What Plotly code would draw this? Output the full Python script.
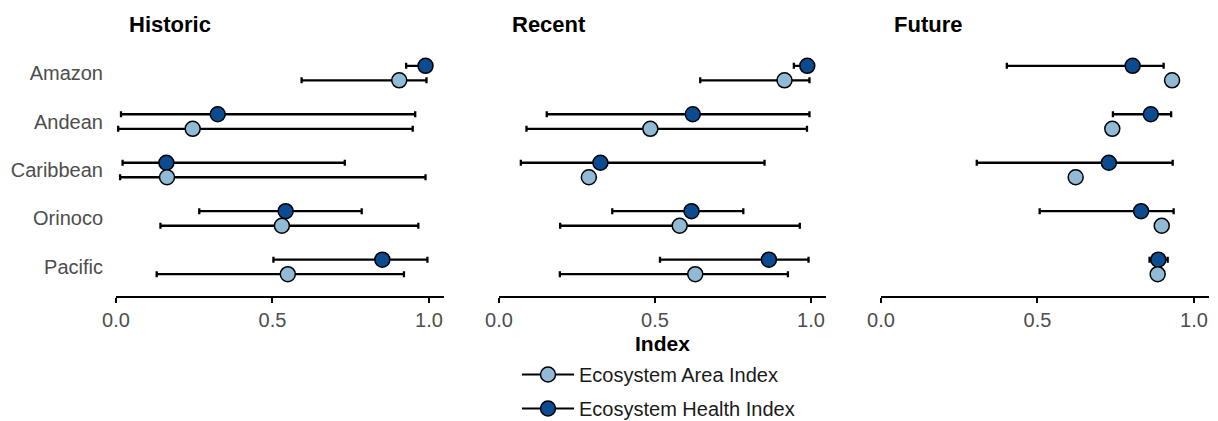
import plotly.graph_objects as go

regions = ["Amazon", "Andean", "Caribbean", "Orinoco", "Pacific"]
periods = ["Historic", "Recent", "Future"]

# Ecosystem Area Index (value, lower, upper) per period
area_hist = [0.905, 0.245, 0.163, 0.530, 0.549]
area_hist_lo = [0.593, 0.007, 0.013, 0.142, 0.130]
area_hist_hi = [0.992, 0.948, 0.989, 0.966, 0.920]
area_rec = [0.915, 0.485, 0.288, 0.579, 0.629]
area_rec_lo = [0.645, 0.088, 0.288, 0.196, 0.195]
area_rec_hi = [0.995, 0.987, 0.288, 0.964, 0.926]
area_fut = [0.930, 0.739, 0.622, 0.897, 0.884]
area_fut_lo = [0.930, 0.739, 0.622, 0.897, 0.884]
area_fut_hi = [0.930, 0.739, 0.622, 0.897, 0.884]

# Ecosystem Health Index (value, lower, upper) per period
health_hist = [0.989, 0.325, 0.161, 0.542, 0.851]
health_hist_lo = [0.927, 0.016, 0.021, 0.266, 0.503]
health_hist_hi = [0.995, 0.956, 0.731, 0.785, 0.995]
health_rec = [0.988, 0.621, 0.325, 0.617, 0.865]
health_rec_lo = [0.945, 0.153, 0.070, 0.363, 0.516]
health_rec_hi = [1.000, 0.995, 0.851, 0.783, 0.992]
health_fut = [0.804, 0.862, 0.728, 0.831, 0.886]
health_fut_lo = [0.402, 0.741, 0.306, 0.507, 0.858]
health_fut_hi = [0.903, 0.927, 0.932, 0.935, 0.916]

tick_vals = [0, 0.5, 1.0]
tick_text = ["0.0", "0.5", "1.0"]

AREA_COL = "#90BAD6"
HEALTH_COL = "#0B4B91"
FONT = "Liberation Sans"

# Page is viewed in a 1218x421 window; the canvas is a bit taller so the
# legend box is not clipped at the bottom edge.
W, H = 1218, 440
x_px = [(116, 444), (499, 826), (881, 1209)]
y_top_px, y_bot_px = 44, 296

area_sets = [(area_hist, area_hist_lo, area_hist_hi),
             (area_rec, area_rec_lo, area_rec_hi),
             (area_fut, area_fut_lo, area_fut_hi)]
health_sets = [(health_hist, health_hist_lo, health_hist_hi),
               (health_rec, health_rec_lo, health_rec_hi),
               (health_fut, health_fut_lo, health_fut_hi)]


def gapped(vals):
    out = []
    for i, v in enumerate(vals):
        if i:
            out.append(None)
        out.append(v)
    return out


fig = go.Figure()


def add_series(k, vals, lo, hi, offset, name, color, rank):
    xs = gapped(vals)
    ys = gapped([i + offset for i in range(len(vals))])
    plus = gapped([h - v for v, h in zip(vals, hi)])
    minus = gapped([v - l for v, l in zip(vals, lo)])
    suffix = "" if k == 0 else str(k + 1)
    fig.add_trace(go.Scatter(
        x=xs, y=ys, mode="lines+markers", connectgaps=False,
        name=name, legendgroup=name, legendrank=rank, showlegend=(k == 0),
        line=dict(color="black", width=2),
        marker=dict(size=15, color=color, line=dict(color="black", width=1.5)),
        error_x=dict(type="data", symmetric=False, array=plus, arrayminus=minus,
                     color="black", thickness=2.3, width=3),
        xaxis="x" + suffix, yaxis="y" + suffix,
        hoverinfo="skip",
    ))


for k in range(3):
    hv, hl, hh = health_sets[k]
    add_series(k, hv, hl, hh, -0.15, "Ecosystem Health Index", HEALTH_COL, 2)
    av, al, ah = area_sets[k]
    add_series(k, av, al, ah, 0.15, "Ecosystem Area Index", AREA_COL, 1)

ydom = [1 - y_bot_px / H, 1 - y_top_px / H]
layout = dict(
    width=W, height=H, autosize=False,
    margin=dict(l=0, r=0, t=0, b=0, pad=0, autoexpand=False),
    paper_bgcolor="white", plot_bgcolor="white",
    font=dict(family=FONT, size=20, color="#1a1a1a"),
    showlegend=True,
    legend=dict(x=517 / W, xanchor="left", y=1 - 355 / H, yanchor="top",
                tracegroupgap=5, itemwidth=52,
                font=dict(size=20, color="#1a1a1a"),
                bgcolor="rgba(0,0,0,0)", traceorder="grouped"),
)
annotations = []
for k in range(3):
    suffix = "" if k == 0 else str(k + 1)
    x0, x1 = x_px[k]
    layout["xaxis" + suffix] = dict(
        domain=[x0 / W, x1 / W], range=[0, 1.048], anchor="y" + suffix,
        showline=True, linecolor="black", linewidth=2,
        ticks="outside", ticklen=5, tickwidth=2, tickcolor="black",
        tickvals=tick_vals, ticktext=tick_text,
        tickfont=dict(size=20, color="#4D4D4D", family=FONT),
        showgrid=False, zeroline=False, automargin=False, fixedrange=True,
    )
    layout["yaxis" + suffix] = dict(
        domain=ydom, range=[4.6, -0.6], anchor="x" + suffix,
        tickvals=list(range(len(regions))), ticktext=regions,
        showticklabels=(k == 0), ticks="", showline=False,
        ticklabelstandoff=12,
        tickfont=dict(size=20, color="#4D4D4D", family=FONT),
        showgrid=False, zeroline=False, automargin=False, fixedrange=True,
    )
    annotations.append(dict(
        text="<b>%s</b>" % periods[k], xref="paper", yref="paper",
        x=(x0 + 11) / W, y=1 - 24 / H, xanchor="left", yanchor="middle",
        showarrow=False, font=dict(size=22, color="black", family=FONT),
    ))
annotations.append(dict(
    text="<b>Index</b>", xref="paper", yref="paper",
    x=663 / W, y=1 - 343 / H, xanchor="center", yanchor="middle",
    showarrow=False, font=dict(size=21, color="black", family=FONT),
))
layout["annotations"] = annotations
fig.update_layout(**layout)
fig.write_html(
    "out.html",
    config={"displayModeBar": False, "staticPlot": True},
    post_script=("document.body.style.margin='0';"
                 "document.body.style.overflow='hidden';"
                 "document.documentElement.style.overflow='hidden';"),
)
